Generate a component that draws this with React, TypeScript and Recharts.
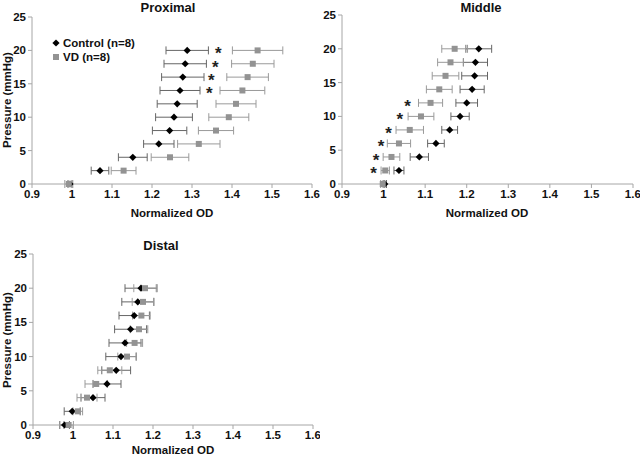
import React from 'react';
import { ScatterChart, Scatter, XAxis, YAxis, ErrorBar } from 'recharts';

// pressure steps (mmHg), shared by every panel
const pressure = [0, 2, 4, 6, 8, 10, 12, 14, 16, 18, 20];
const xTicks = [0.9, 1, 1.1, 1.2, 1.3, 1.4, 1.5, 1.6];
const yTicks = [0, 5, 10, 15, 20, 25];

const proxControl = [0.995, 1.07, 1.152, 1.217, 1.244, 1.255, 1.263, 1.27, 1.277, 1.283, 1.288];
const proxControlErr = [0.005, 0.022, 0.036, 0.038, 0.043, 0.046, 0.05, 0.05, 0.053, 0.053, 0.053];
const proxVD = [0.992, 1.129, 1.245, 1.317, 1.36, 1.392, 1.41, 1.426, 1.439, 1.452, 1.464];
const proxVDErr = [0.01, 0.031, 0.047, 0.053, 0.044, 0.05, 0.05, 0.056, 0.052, 0.053, 0.063];
const proxStarP = [14, 16, 18, 20];
const proxStarX = [1.343, 1.348, 1.358, 1.366];

const midControl = [1.003, 1.037, 1.086, 1.126, 1.159, 1.184, 1.2, 1.213, 1.219, 1.221, 1.229];
const midControlErr = [0.004, 0.012, 0.022, 0.02, 0.019, 0.022, 0.026, 0.029, 0.031, 0.029, 0.031];
const midVD = [0.998, 1.004, 1.019, 1.037, 1.063, 1.09, 1.113, 1.134, 1.149, 1.161, 1.171];
const midVDErr = [0.005, 0.01, 0.02, 0.028, 0.033, 0.031, 0.029, 0.031, 0.032, 0.031, 0.031];
const midStarP = [2, 4, 6, 8, 10, 12];
const midStarX = [0.976, 0.982, 0.994, 1.012, 1.039, 1.058];

const distControl = [0.979, 0.998, 1.05, 1.085, 1.108, 1.12, 1.13, 1.144, 1.153, 1.162, 1.17];
const distControlErr = [0.012, 0.02, 0.03, 0.035, 0.036, 0.038, 0.04, 0.04, 0.038, 0.04, 0.04];
const distVD = [0.989, 1.012, 1.035, 1.058, 1.092, 1.135, 1.154, 1.165, 1.171, 1.175, 1.18];
const distVDErr = [0.012, 0.012, 0.025, 0.028, 0.03, 0.023, 0.02, 0.022, 0.022, 0.027, 0.028];

const FONT = '"Liberation Sans", Arial, sans-serif';
const AXIS = '#a6a6a6';

const toRows = (xs: number[], errs: number[]) =>
  pressure.map((p, i) => ({ x: xs[i], y: p, err: errs[i] }));
const starRows = (ps: number[], xs: number[]) => ps.map((p, i) => ({ x: xs[i], y: p }));

const Diamond = (props: any) => {
  const { cx, cy } = props;
  const r = 3.6;
  return <path d={`M${cx},${cy - r}L${cx + r},${cy}L${cx},${cy + r}L${cx - r},${cy}Z`} fill="#000" />;
};
const Square = (props: any) => {
  const { cx, cy } = props;
  return <rect x={cx - 3} y={cy - 3} width={6} height={6} fill="#939393" />;
};
const Star = (props: any) => {
  const { cx, cy } = props;
  return (
    <text x={cx} y={cy + 9} textAnchor="middle" fontSize={17} fontWeight={700} fontFamily={FONT} fill="#222">
      *
    </text>
  );
};

const fmt = (v: number) => String(Number(v.toFixed(1)));

const LegendBox = ({ x, y }: any) => (
  <div
    style={{
      position: 'absolute',
      left: x,
      top: y,
      fontFamily: FONT,
      fontWeight: 700,
      fontSize: 11.5,
      color: '#111',
      lineHeight: '14px',
    }}
  >
    <div style={{ display: 'flex', alignItems: 'center' }}>
      <svg width={10} height={10}><path d="M5,1.4L8.6,5L5,8.6L1.4,5Z" fill="#000" /></svg>
      <span style={{ marginLeft: 2 }}>Control (n=8)</span>
    </div>
    <div style={{ display: 'flex', alignItems: 'center' }}>
      <svg width={10} height={10}><rect x={2} y={2} width={6} height={6} fill="#939393" /></svg>
      <span style={{ marginLeft: 2 }}>VD (n=8)</span>
    </div>
  </div>
);

interface PanelProps {
  left: number;
  top: number;
  height: number;
  yAxisWidth: number;
  margin: { top: number; right: number; bottom: number; left: number };
  control: any[];
  vd: any[];
  stars: any[];
}

const Panel = ({ left, top, height, yAxisWidth, margin, control, vd, stars }: PanelProps) => (
  <div style={{ position: 'absolute', left, top }}>
    <ScatterChart width={320} height={height} margin={margin}>
      <XAxis
        type="number"
        dataKey="x"
        domain={[0.9, 1.6]}
        ticks={xTicks}
        tickFormatter={fmt}
        allowDataOverflow
        stroke={AXIS}
        tickSize={4}
        height={20}
        tick={{ fontSize: 11.5, fontWeight: 700, fill: '#111', fontFamily: FONT }}
      />
      <YAxis
        type="number"
        dataKey="y"
        domain={[0, 25]}
        ticks={yTicks}
        width={yAxisWidth}
        stroke={AXIS}
        tickSize={4}
        tick={{ fontSize: 11.5, fontWeight: 700, fill: '#111', fontFamily: FONT }}
      />
      <Scatter name="Control (n=8)" data={control} shape={Diamond} isAnimationActive={false}>
        <ErrorBar dataKey="err" direction="x" width={4} stroke="#666" strokeWidth={1} />
      </Scatter>
      <Scatter name="VD (n=8)" data={vd} shape={Square} isAnimationActive={false}>
        <ErrorBar dataKey="err" direction="x" width={4} stroke="#9a9a9a" strokeWidth={1} />
      </Scatter>
      <Scatter data={stars} shape={Star} isAnimationActive={false} legendType="none" />
    </ScatterChart>
  </div>
);

const textStyle: React.CSSProperties = {
  position: 'absolute',
  fontFamily: FONT,
  fontWeight: 700,
  color: '#111',
  whiteSpace: 'nowrap',
  transform: 'translate(-50%, -50%)',
};

const Title = ({ x, y, children, size = 13 }: any) => (
  <div style={{ ...textStyle, left: x, top: y, fontSize: size }}>{children}</div>
);
const YLabel = ({ x, y }: any) => (
  <div style={{ ...textStyle, left: x, top: y, fontSize: 11.5, transform: 'translate(-50%, -50%) rotate(-90deg)' }}>
    Pressure (mmHg)
  </div>
);

export default function App() {
  return (
    <div style={{ position: 'absolute', left: 0, top: 0, width: 640, height: 456, background: '#fff', overflow: 'hidden' }}>
      <Panel
        left={0}
        top={0}
        height={230}
        yAxisWidth={32}
        margin={{ top: 17, right: 8, bottom: 26, left: 0 }}
        control={toRows(proxControl, proxControlErr)}
        vd={toRows(proxVD, proxVDErr)}
        stars={starRows(proxStarP, proxStarX)}
      />
      <Panel
        left={320}
        top={0}
        height={230}
        yAxisWidth={22}
        margin={{ top: 15, right: 7, bottom: 26, left: 0 }}
        control={toRows(midControl, midControlErr)}
        vd={toRows(midVD, midVDErr)}
        stars={starRows(midStarP, midStarX)}
      />
      <Panel
        left={0}
        top={240}
        height={216}
        yAxisWidth={33}
        margin={{ top: 14, right: 7, bottom: 11, left: 0 }}
        control={toRows(distControl, distControlErr)}
        vd={toRows(distVD, distVDErr)}
        stars={[]}
      />
      <LegendBox x={51} y={36} />
      <Title x={168} y={7}>Proximal</Title>
      <Title x={481} y={7}>Middle</Title>
      <Title x={161} y={245}>Distal</Title>
      <Title x={172} y={213} size={11.5}>Normalized OD</Title>
      <Title x={487} y={213} size={11.5}>Normalized OD</Title>
      <Title x={173} y={450} size={11.5}>Normalized OD</Title>
      <YLabel x={7} y={100} />
      <YLabel x={7} y={340} />
    </div>
  );
}
